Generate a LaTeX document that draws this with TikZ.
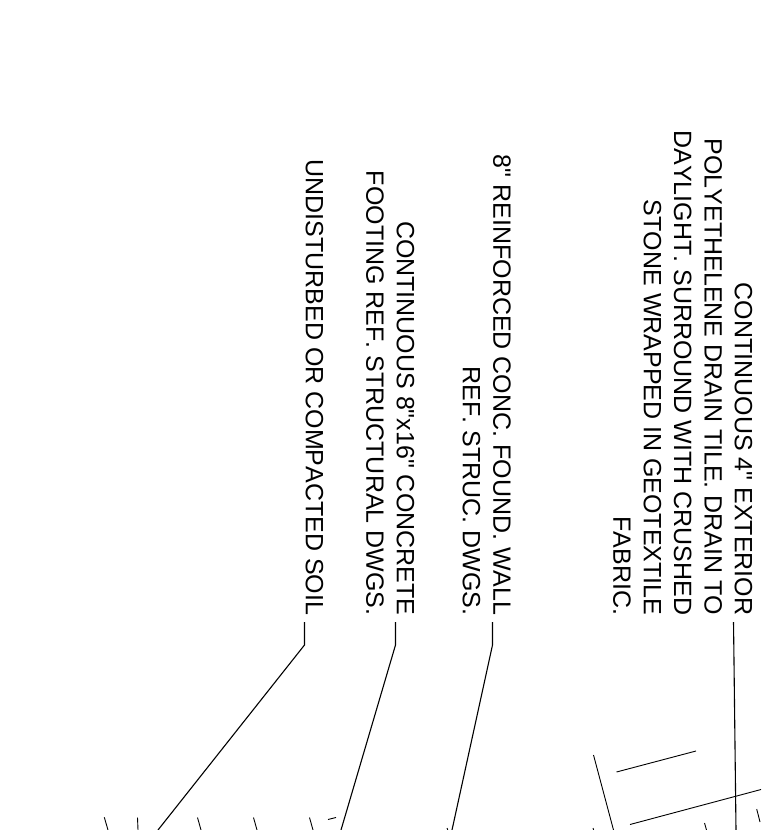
\documentclass[tikz,border=0pt]{standalone}
\usepackage{fontspec}
\newfontfamily\labelfont[Kerning=Off]{Liberation Sans}
\tikzset{
  callout/.style={rotate=-90,anchor=north east,inner sep=0pt,align=right,font=\labelfont\fontsize{25}{30.35}\selectfont,text=black},
  leader/.style={draw=black,line width=1.1pt,line join=miter},
  thinline/.style={draw=black,line width=0.9pt}
}
\begin{document}
\begin{tikzpicture}[x=1pt,y=-1pt]
\useasboundingbox[fill=white] (0,0) rectangle (761,830);
\begin{scope}
\clip (0,0) rectangle (761,830);
\node[callout] (soil) at (323.5,615.5) {UNDISTURBED OR COMPACTED SOIL};
\node[callout] (footing) at (414.5,615.5) {CONTINUOUS 8"x16" CONCRETE\\FOOTING REF. STRUCTURAL DWGS.};
\node[callout] (wall) at (511,615.5) {8" REINFORCED CONC. FOUND. WALL\\REF. STRUC. DWGS.};
\node[callout] (tile) at (752.5,615.5) {CONTINUOUS 4" EXTERIOR\\POLYETHELENE DRAIN TILE. DRAIN TO\\DAYLIGHT. SURROUND WITH CRUSHED\\STONE WRAPPED IN GEOTEXTILE\\FABRIC.};
\coordinate (s1) at (304.5,622); \coordinate (s2) at (304.5,645); \coordinate (s3) at (158,830);
\coordinate (f1) at (395.5,622); \coordinate (f2) at (395.5,645); \coordinate (f3) at (341,830);
\coordinate (w1) at (492.5,622); \coordinate (w2) at (492.5,645); \coordinate (w3) at (452,830);
\coordinate (t1) at (733.5,622); \coordinate (t2) at (733.8,645); \coordinate (t3) at (736,830);
\draw[leader] (s1) -- (s2) -- (s3);
\draw[leader] (f1) -- (f2) -- (f3);
\draw[leader] (w1) -- (w2) -- (w3);
\draw[leader] (t1) -- (t2) -- (t3);
\draw[thinline] (593.5,755) -- (613.5,830);
\draw[thinline] (616.5,772) -- (696,751);
\draw[thinline] (630,824.5) -- (761,789.5);
\draw[thinline] (104.3,817.3) -- (108,830);
\draw[thinline] (137.5,817.5) -- (138,830);
\draw[thinline] (197.5,817.5) -- (201,830);
\draw[thinline] (253.5,817.5) -- (257,830);
\draw[thinline] (309.5,817.5) -- (313,830);
\draw[thinline] (328,819.5) -- (336,817.5);
\draw[thinline] (447,828) -- (447.8,830);
\draw[thinline] (593,828) -- (593.6,830);
\draw[thinline] (704.5,823) -- (706.5,830);
\draw[thinline] (756.7,809) -- (760,822);
\end{scope}
\end{tikzpicture}
\end{document}
